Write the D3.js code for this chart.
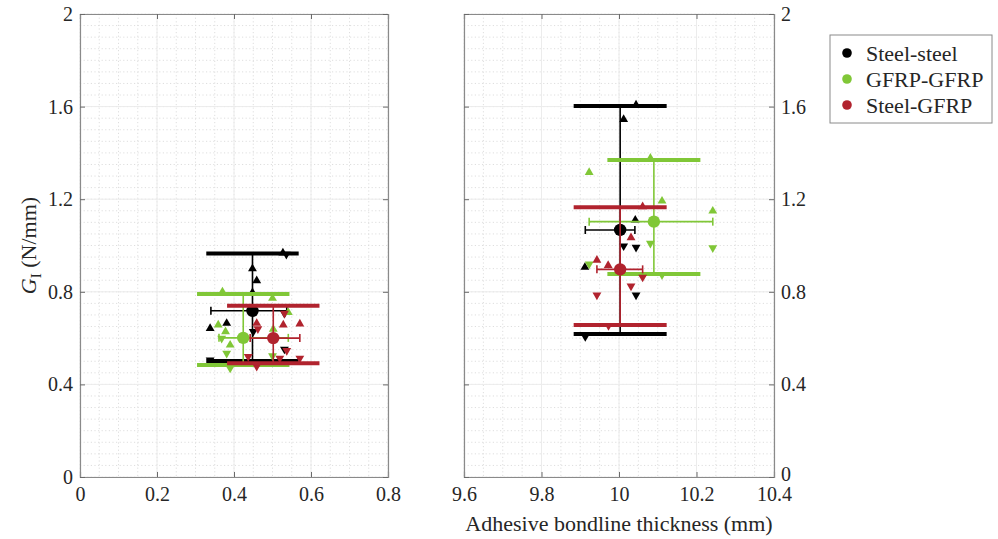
<!DOCTYPE html>
<html>
<head>
<meta charset="utf-8">
<script src="https://cdn.jsdelivr.net/npm/d3@7/dist/d3.min.js"></script>
<style>
  html, body { margin: 0; padding: 0; background: #fff; }
  svg { display: block; }
</style>
</head>
<body>
<svg id="chart" width="998" height="539"></svg>
<script>
// ---- data -------------------------------------------------------------
const groups = ["Steel-steel", "GFRP-GFRP", "Steel-GFRP"];
const colors = ["#000000", "#80c737", "#b1232e"];

const yTicks = [0, 0.4, 0.8, 1.2, 1.6, 2];
const xTicksThin = [0, 0.2, 0.4, 0.6, 0.8];
const xTicksThick = [9.6, 9.8, 10, 10.2, 10.4];

// thin bondline (≈0.45 mm): group summaries
const thinMeanX = [0.448, 0.424, 0.502];
const thinMeanG = [0.718, 0.601, 0.600];
const thinXLow  = [0.340, 0.361, 0.442];
const thinXHigh = [0.537, 0.541, 0.571];
const thinGMax  = [0.965, 0.790, 0.740];
const thinGMin  = [0.501, 0.484, 0.491];

// thin bondline: individual specimens (x, G, "u" = ▲, "d" = ▼)
const thinSteelX = [0.527, 0.536, 0.448, 0.459, 0.448, 0.338, 0.381, 0.450, 0.531, 0.531, 0.338];
const thinSteelG = [0.968, 0.962, 0.900, 0.848, 0.797, 0.642, 0.664, 0.628, 0.707, 0.552, 0.505];
const thinSteelS = ["u", "d", "u", "u", "u", "u", "u", "d", "d", "d", "d"];

const thinGfrpX = [0.370, 0.500, 0.541, 0.359, 0.378, 0.368, 0.390, 0.381, 0.502, 0.500, 0.390];
const thinGfrpG = [0.800, 0.772, 0.711, 0.657, 0.628, 0.599, 0.570, 0.534, 0.638, 0.523, 0.470];
const thinGfrpS = ["u", "u", "u", "u", "u", "d", "u", "d", "u", "d", "d"];

const thinMixX = [0.531, 0.459, 0.462, 0.528, 0.571, 0.537, 0.437, 0.519, 0.571, 0.459];
const thinMixG = [0.707, 0.664, 0.640, 0.657, 0.661, 0.546, 0.520, 0.513, 0.513, 0.478];
const thinMixS = ["d", "u", "d", "u", "u", "d", "d", "d", "d", "d"];

// thick bondline (≈10 mm): group summaries
const thickMeanX = [10.003, 10.090, 10.003];
const thickMeanG = [1.067, 1.103, 0.897];
const thickXLow  = [9.913, 9.923, 9.943];
const thickXHigh = [10.041, 10.242, 10.061];
const thickGMax  = [1.603, 1.369, 1.165];
const thickGMin  = [0.618, 0.877, 0.657];

// thick bondline: individual specimens
const thickSteelX = [10.044, 10.012, 10.042, 10.012, 10.044, 9.912, 10.044, 9.913];
const thickSteelG = [1.607, 1.545, 1.110, 0.998, 0.992, 0.906, 0.786, 0.606];
const thickSteelS = ["u", "u", "u", "d", "d", "u", "d", "d"];

const thickGfrpX = [10.081, 9.923, 10.111, 10.242, 10.081, 10.242, 9.923, 10.111];
const thickGfrpG = [1.377, 1.316, 1.192, 1.149, 1.009, 0.990, 0.920, 0.873];
const thickGfrpS = ["u", "u", "u", "u", "d", "d", "d", "d"];

const thickMixX = [10.061, 10.031, 9.943, 9.972, 10.061, 10.031, 9.943, 9.973];
const thickMixG = [1.168, 1.034, 0.937, 0.914, 0.863, 0.825, 0.786, 0.654];
const thickMixS = ["u", "u", "u", "u", "d", "d", "d", "d"];

// half length (in x units) of the min / max bars
const rangeBarHalf = 0.12;

// ---- layout -----------------------------------------------------------
const FONT = '"Liberation Serif", Tinos, "Times New Roman", serif';
const svg = d3.select("#chart");
const plotTop = 14, plotBottom = 477;
const y = d3.scaleLinear().domain([0, 2]).range([plotBottom, plotTop]);

const panels = [
  {
    x: d3.scaleLinear().domain([0, 0.8]).range([80, 388]),
    xTicks: xTicksThin, ySide: "left",
    meanX: thinMeanX, meanG: thinMeanG, xLow: thinXLow, xHigh: thinXHigh,
    gMax: thinGMax, gMin: thinGMin,
    pts: [[thinSteelX, thinSteelG, thinSteelS], [thinGfrpX, thinGfrpG, thinGfrpS], [thinMixX, thinMixG, thinMixS]]
  },
  {
    x: d3.scaleLinear().domain([9.6, 10.4]).range([464, 774]),
    xTicks: xTicksThick, ySide: "right",
    meanX: thickMeanX, meanG: thickMeanG, xLow: thickXLow, xHigh: thickXHigh,
    gMax: thickGMax, gMin: thickGMin,
    pts: [[thickSteelX, thickSteelG, thickSteelS], [thickGfrpX, thickGfrpG, thickGfrpS], [thickMixX, thickMixG, thickMixS]]
  }
];

const fmt = d => d3.format("~g")(d);
const tri = d3.symbol().type(d3.symbolTriangle).size(34);

panels.forEach(p => {
  const x = p.x;
  const [x0, x1] = x.range();
  const g = svg.append("g");

  // grid: minor dotted every 0.05, major solid at ticks
  const minorX = d3.range(0, 17).map(i => x.domain()[0] + i * 0.05);
  const minorY = d3.range(0, 41).map(i => i * 0.05);
  const grid = g.append("g");
  grid.selectAll(".mx").data(minorX).join("line")
    .attr("x1", d => x(d)).attr("x2", d => x(d)).attr("y1", plotTop).attr("y2", plotBottom)
    .attr("stroke", "#dedede").attr("stroke-width", 1).attr("stroke-dasharray", "1.2,2.4");
  grid.selectAll(".my").data(minorY).join("line")
    .attr("x1", x0).attr("x2", x1).attr("y1", d => y(d)).attr("y2", d => y(d))
    .attr("stroke", "#dedede").attr("stroke-width", 1).attr("stroke-dasharray", "1.2,2.4");
  grid.selectAll(".Mx").data(p.xTicks).join("line")
    .attr("x1", d => x(d)).attr("x2", d => x(d)).attr("y1", plotTop).attr("y2", plotBottom)
    .attr("stroke", "#ececec").attr("stroke-width", 1);
  grid.selectAll(".My").data(yTicks).join("line")
    .attr("x1", x0).attr("x2", x1).attr("y1", d => y(d)).attr("y2", d => y(d))
    .attr("stroke", "#ececec").attr("stroke-width", 1);

  // axes (ticks inward on all four sides)
  const axB = g.append("g").attr("transform", `translate(0,${plotBottom})`)
    .call(d3.axisBottom(x).tickValues(p.xTicks).tickFormat(fmt).tickSize(-5).tickPadding(10));
  const axT = g.append("g").attr("transform", `translate(0,${plotTop})`)
    .call(d3.axisTop(x).tickValues(p.xTicks).tickFormat("").tickSize(-5));
  const axL = g.append("g").attr("transform", `translate(${x0},0)`)
    .call(d3.axisLeft(y).tickValues(yTicks).tickFormat(p.ySide === "left" ? fmt : "").tickSize(-5).tickPadding(7));
  const axR = g.append("g").attr("transform", `translate(${x1},0)`)
    .call(d3.axisRight(y).tickValues(yTicks).tickFormat(p.ySide === "right" ? fmt : "").tickSize(-5).tickPadding(7));
  [axB, axT, axL, axR].forEach(a => {
    a.select(".domain").attr("stroke", "#8a8a8a").attr("stroke-width", 1.2);
    a.selectAll(".tick line").attr("stroke", "#6a6a6a").attr("stroke-width", 1);
    a.selectAll(".tick text").attr("fill", "#262626")
      .style("font-family", FONT).style("font-size", "20px");
  });
  // keep the lowest label on the right axis clear of the x labels below
  axR.selectAll(".tick text").filter(d => d === 0).attr("dy", "0.15em");

  // data per group
  groups.forEach((name, i) => {
    const c = colors[i];
    const gg = g.append("g");
    const [px, pg, ps] = p.pts[i];

    // specimens
    gg.selectAll("path.t").data(px.map((v, k) => ({ x: v, g: pg[k], s: ps[k] }))).join("path")
      .attr("d", tri)
      .attr("transform", d => `translate(${x(d.x)},${y(d.g)}) rotate(${d.s === "d" ? 180 : 0})`)
      .attr("fill", c);

    // min / max bars
    [p.gMax[i], p.gMin[i]].forEach(v => {
      gg.append("line")
        .attr("x1", x(p.meanX[i] - rangeBarHalf)).attr("x2", x(p.meanX[i] + rangeBarHalf))
        .attr("y1", y(v)).attr("y2", y(v))
        .attr("stroke", c).attr("stroke-width", 4);
    });
    // range stem
    gg.append("line")
      .attr("x1", x(p.meanX[i])).attr("x2", x(p.meanX[i]))
      .attr("y1", y(p.gMax[i])).attr("y2", y(p.gMin[i]))
      .attr("stroke", c).attr("stroke-width", 1.6);
    // thickness error bar
    const ey = y(p.meanG[i]);
    gg.append("line")
      .attr("x1", x(p.xLow[i])).attr("x2", x(p.xHigh[i]))
      .attr("y1", ey).attr("y2", ey)
      .attr("stroke", c).attr("stroke-width", 1.6);
    [p.xLow[i], p.xHigh[i]].forEach(v => {
      gg.append("line")
        .attr("x1", x(v)).attr("x2", x(v)).attr("y1", ey - 4).attr("y2", ey + 4)
        .attr("stroke", c).attr("stroke-width", 1.6);
    });
    // mean
    gg.append("circle")
      .attr("cx", x(p.meanX[i])).attr("cy", ey).attr("r", 6.2)
      .attr("fill", c);
  });
});

// axis titles
const yl = svg.append("text")
  .attr("transform", `translate(36,${(plotTop + plotBottom) / 2}) rotate(-90)`)
  .attr("text-anchor", "middle").attr("fill", "#262626")
  .style("font-family", FONT).style("font-size", "22px");
yl.append("tspan").attr("font-style", "italic").text("G");
yl.append("tspan").style("font-size", "15px").attr("dy", 5).text("I");
yl.append("tspan").attr("dy", -5).text(" (N/mm)");

svg.append("text")
  .attr("x", 619).attr("y", 531)
  .attr("text-anchor", "middle").attr("fill", "#262626")
  .style("font-family", FONT).style("font-size", "22px")
  .text("Adhesive bondline thickness (mm)");

// legend
const lg = svg.append("g").attr("transform", "translate(830,35)");
lg.append("rect").attr("width", 162).attr("height", 88)
  .attr("fill", "#fff").attr("stroke", "#8a8a8a").attr("stroke-width", 1);
groups.forEach((name, i) => {
  const yy = 18 + i * 26;
  lg.append("circle").attr("cx", 17).attr("cy", yy).attr("r", 4.8).attr("fill", colors[i]);
  lg.append("text").attr("x", 36).attr("y", yy).attr("dy", "0.35em")
    .attr("fill", "#262626")
    .style("font-family", FONT).style("font-size", "22px").text(name);
});
</script>
</body>
</html>
